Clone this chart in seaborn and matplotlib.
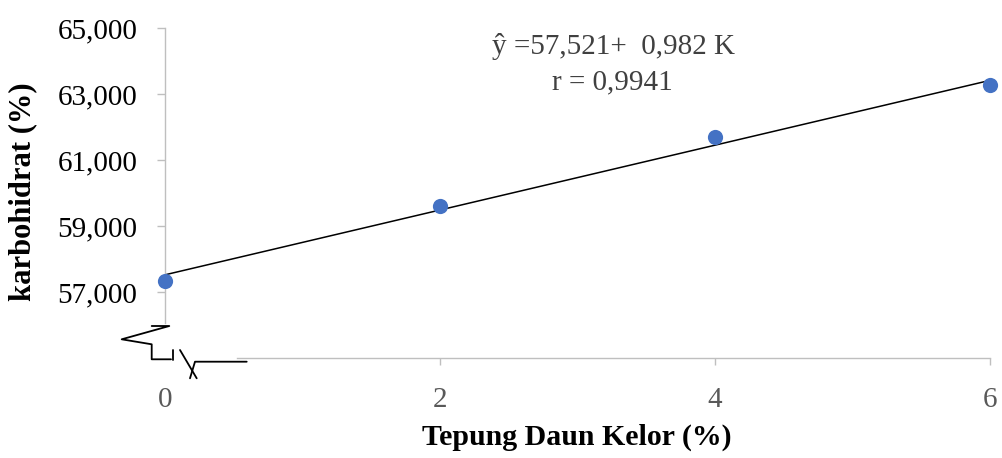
import matplotlib
matplotlib.use("Agg")
import matplotlib.pyplot as plt
import seaborn as sns
import numpy as np
import pandas as pd
from matplotlib.lines import Line2D

# ---- data ----
tepung = [0, 2, 4, 6]
karbohidrat = [57.33, 59.62, 61.69, 63.27]
intercept = 57.521
slope = 0.982
r_value = "0,9941"
y_ticks = [57, 59, 61, 63, 65]
x_ticks = [0, 2, 4, 6]

sns.set_theme(style="white")
plt.rcParams['font.family'] = ['Liberation Serif', 'DejaVu Serif']

W, H = 1002, 458
fig = plt.figure(figsize=(W / 100, H / 100), dpi=100)
ax = fig.add_axes([165 / W, 1 - 358 / H, (990 - 165) / W, (358 - 28) / H])

df = pd.DataFrame({"x": tepung, "y": karbohidrat})
xs = np.array([min(tepung), max(tepung)], dtype=float)
trend = pd.DataFrame({"x": xs, "y": intercept + slope * xs})

sns.lineplot(data=trend, x="x", y="y", ax=ax, color="black", linewidth=1.1, zorder=2)
sns.scatterplot(data=df, x="x", y="y", ax=ax, color="#4472C4", s=120,
                edgecolor="#4472C4", linewidth=0, zorder=3, clip_on=False)

ax.set_xlim(0, 6)
ax.set_ylim(55, 65)
ax.set_xticks(x_ticks)
ax.set_yticks(y_ticks)
ax.set_xticklabels([str(v) for v in x_ticks])
ax.set_yticklabels([f"{v:.3f}".replace('.', ',') for v in y_ticks])

spine_col = "#BFBFBF"
for s in ["top", "right"]:
    ax.spines[s].set_visible(False)
ax.spines["left"].set_color(spine_col)
ax.spines["bottom"].set_color(spine_col)
ax.spines["left"].set_linewidth(1.0)
ax.spines["bottom"].set_linewidth(1.0)
ax.spines["left"].set_bounds(55 + (358 - 323) / 33.0, 65)
ax.spines["bottom"].set_bounds((237 - 165) / 137.5, 6)

ax.tick_params(axis="y", direction="out", length=6, width=1.0, color=spine_col,
               labelsize=21, labelcolor="#000000", pad=14, left=True)
ax.tick_params(axis="x", direction="out", length=5, width=1.0, color=spine_col,
               labelsize=21, labelcolor="#595959", pad=16, bottom=True)
ax.xaxis.get_major_ticks()[0].tick1line.set_visible(False)

ax.set_xlabel("Tepung Daun Kelor (%)", fontsize=21.5, fontweight="bold", color="black")
ax.set_ylabel("karbohidrat (%)", fontsize=22, fontweight="bold", color="black")
ax.xaxis.label.set_va("center")
ax.yaxis.label.set_va("center")
ax.xaxis.set_label_coords((577 - 165) / (990 - 165), -(437 - 358) / (358 - 28))
ax.yaxis.set_label_coords(-(165 - 23) / (990 - 165), (358 - 192) / (358 - 28))

ax.text(613 / W, 1 - 46 / H, "ŷ =57,521+  0,982 K", transform=fig.transFigure,
        ha="center", va="center", fontsize=21, color="#404040")
ax.text(612 / W, 1 - 82 / H, f"r = {r_value}", transform=fig.transFigure,
        ha="center", va="center", fontsize=21, color="#404040")

# ---- axis break decoration (pixel coordinates from top-left) ----
def px(points):
    return [p[0] / W for p in points], [1 - p[1] / H for p in points]

segments = [
    [(151.7, 326), (169.3, 326), (121.7, 339.3), (151.7, 344.3), (151.7, 359.3), (171, 359.3)],
    [(173.3, 350), (173.3, 360)],
    [(180, 350), (196.7, 378.3)],
    [(190, 378.3), (195, 361.7), (246.7, 361.7)],
]
for seg in segments:
    xx, yy = px(seg)
    fig.add_artist(Line2D(xx, yy, transform=fig.transFigure, color="black", linewidth=1.3))

fig.savefig("out.png", dpi=100)
